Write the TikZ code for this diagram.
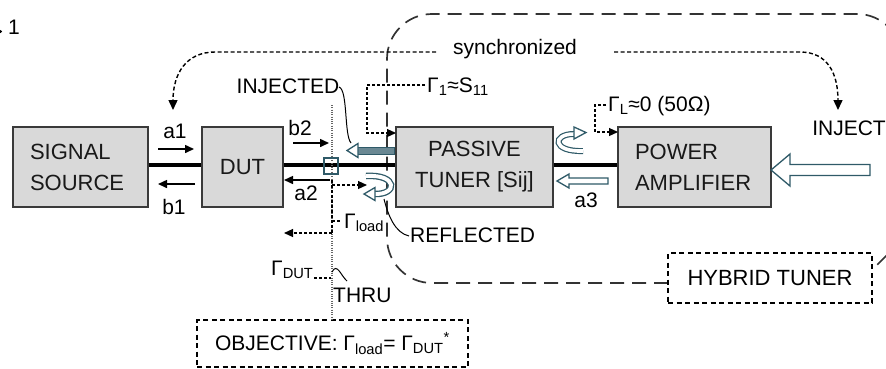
\documentclass[tikz,border=0pt]{standalone}
\usepackage{fontspec}
\setmainfont{Liberation Sans}
\usetikzlibrary{arrows.meta}
\definecolor{boxfill}{HTML}{D9D9D9}
\definecolor{boxline}{HTML}{3A3A3A}
\definecolor{tealc}{HTML}{2F5A68}
\definecolor{tealfill}{HTML}{6A8893}
\begin{document}
\begin{tikzpicture}[x=1pt,y=-1pt,
  box/.style={draw=boxline, line width=1.3pt, fill=boxfill, minimum height=80pt, inner sep=0pt, text=black!90, font=\fontsize{22}{31}\selectfont},
  lbl/.style={inner sep=0pt, font=\fontsize{21}{25}\selectfont},
  sig/.style={line width=1.5pt, -{Triangle[length=9pt,width=8pt]}},
  gam/.style={line width=1.2pt, dash pattern=on 3pt off 2pt, -{Triangle[length=9pt,width=8pt]}},
  gamline/.style={line width=1.2pt, dash pattern=on 3pt off 2pt},
  sync/.style={line width=1.4pt, dash pattern=on 4pt off 2.5pt, -{Triangle[length=10pt,width=9pt]}},
  bigdash/.style={line width=1.7pt, dash pattern=on 14pt off 8pt, draw=black!80},
  smalldash/.style={draw, line width=1.3pt, dash pattern=on 5pt off 3.5pt},
  tline/.style={line width=4pt},
  hollow/.style={draw=tealc, line width=1.3pt, fill=white},
  leader/.style={line width=1pt},
]
\useasboundingbox (0,0) rectangle (886,368);

% large dashed hybrid-tuner region
\draw[bigdash] (668,283) [rounded corners=45] -| (387,14) -| (902,140) [sharp corners] -- (902,240) -- (872,270);

% boxes
\node[box, text width=101pt, inner xsep=17pt, align=left] (src) at (80.5,167) {SIGNAL\\SOURCE};
\node[box, minimum width=81pt] (dut) at (242.5,167) {DUT};
\node[box, minimum width=157pt, align=center] (pt) at (474.5,167) {PASSIVE\\TUNER [Sij]};
\node[box, text width=119pt, inner xsep=17pt, align=left] (pa) at (694.5,167) {POWER\\AMPLIFIER};
\node[smalldash, minimum width=204pt, minimum height=50pt, inner sep=0pt, fill=white, font=\fontsize{22}{26}\selectfont] (hyb) at (770,278) {HYBRID TUNER};
\node[smalldash, minimum width=271pt, minimum height=47pt, inner sep=0pt, fill=white, lbl] (obj) at (332.5,343.5) {OBJECTIVE: Γ\textsubscript{load}= Γ\textsubscript{DUT}\textsuperscript{*}};

% thick transmission lines
\coordinate (tl) at (0,165);
\draw[tline] (src.east |- tl) -- (dut.west |- tl);
\draw[tline] (dut.east |- tl) -- (pt.west |- tl);
\draw[tline] (pt.east |- tl) -- (pa.west |- tl);

% THRU reference plane
\coordinate (thtop) at (332,105);
\draw[line width=1.1pt, black!60, dash pattern=on 1pt off 1.3pt] (thtop) -- (thtop |- obj.north);
\node[draw=tealc, line width=1.2pt, minimum width=14pt, minimum height=16pt, inner sep=0pt] (jn) at (331,166) {};

% wave arrows
\draw[sig] (158,149) -- (194,149);
\draw[sig] (195,184) -- (158,184);
\draw[sig] (293,143) -- (329,143);
\draw[sig] (330,180) -- (284,180);

% labels
\node[lbl, anchor=base west] (fig) at (8,34) {1};
\fill (0.6,31.5) circle (1.6);
\node[lbl, anchor=base] (la1) at (175,138) {a1};
\node[lbl, anchor=base] (lb1) at (174,214) {b1};
\node[lbl, anchor=base] (lb2) at (300,135) {b2};
\node[lbl, anchor=base] (la2) at (306,200) {a2};
\node[lbl, anchor=base] (la3) at (586,207) {a3};
\node[lbl, anchor=base] (linj) at (288,93) {INJECTED};
\node[lbl, anchor=base west] (lg1) at (427,92) {Γ\textsubscript{1}≈S\textsubscript{11}};
\node[lbl, anchor=base west] (lsync) at (453,54) {synchronized};
\node[lbl, anchor=base west] (lgl) at (608,111) {Γ\textsubscript{L}≈0 (50Ω)};
\node[lbl, anchor=base east] (linject) at (886,135) {INJECT};
\node[lbl, anchor=base west] (lgload) at (344,228) {Γ\textsubscript{load}};
\node[lbl, anchor=base west] (lrefl) at (410,242) {REFLECTED};
\node[lbl, anchor=base west] (lgdut) at (271,275) {Γ\textsubscript{DUT}};
\node[lbl, anchor=base west] (lthru) at (333,302) {THRU};

% synchronized arrows
\draw[sync] (436,52) -- (215,52) .. controls (186,52) and (173,74) .. (173,110);
\draw[sync] (614,52) -- (800,52) .. controls (828,52) and (838,74) .. (838,110);

% gamma leaders
\draw[gam] (425,85) -- (367,85) -- (367,133) -- (396,133);
\draw[gam] (606,105) -- (595,105) -- (595,132) -- (618,132);
\draw[gamline] (332,180) -- (332,233);
\draw[gam] (332,185) -- (367,185);
\draw[gamline] (332,221) -- (342,221);
\draw[gam] (332,233) -- (284,233);
\draw[gamline] (314,278) -- (331,278);

% label leaders
\draw[leader] (339,87) .. controls (348,90) and (344,135) .. (351,143);
\draw[leader] (384,199) .. controls (388,215) and (395,233) .. (409,236);
\draw[leader] (332,272) .. controls (337,262) and (341,276) .. (347,281);

% injected arrow
\draw[draw=tealc, fill=tealfill, line width=1pt] (357,147) rectangle (394,154);
\draw[hollow] (347,150.5) -- (358,143.5) -- (358,157.5) -- cycle;

% reflected U-turn
\draw[tealc, line width=6.5pt] (366,176) .. controls (398,174) and (398,195) .. (374,194);
\draw[white, line width=3.9pt] (366,176) .. controls (398,174) and (398,195) .. (374,194);
\draw[hollow] (364,194) -- (375,187.5) -- (375,200.5) -- cycle;

% PA reflection U-turn
\draw[tealc, line width=6pt] (583,151) .. controls (552,152) and (552,134) .. (574,134);
\draw[white, line width=3.6pt] (583,151) .. controls (552,152) and (552,134) .. (574,134);
\draw[hollow] (586,132.5) -- (574,127) -- (574,139) -- cycle;

% a3 hollow arrow
\draw[hollow] (557,181) -- (569,174) -- (569,178) -- (608,178) -- (608,184) -- (569,184) -- (569,188) -- cycle;

% inject hollow arrow
\draw[hollow] (771,170) -- (790,154) -- (790,164.5) -- (870,164.5) -- (870,175.5) -- (790,175.5) -- (790,186) -- cycle;
\end{tikzpicture}
\end{document}
